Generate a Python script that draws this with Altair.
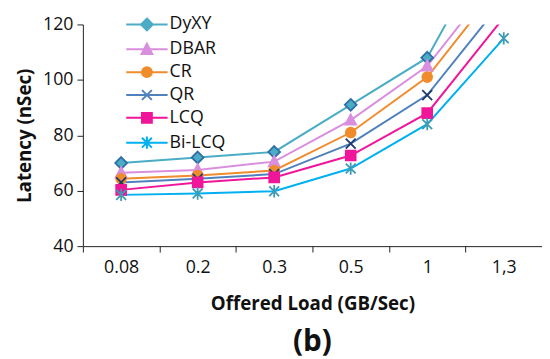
import altair as alt
import pandas as pd

loads = ["0.08", "0.2", "0.3", "0.5", "1", "1,3"]
series = ["DyXY", "DBAR", "CR", "QR", "LCQ", "Bi-LCQ"]

dyxy = [70, 72, 74, 91, 108, 158]
dbar = [66.5, 67.5, 70.5, 85.5, 105, 140]
cr = [64.3, 65.5, 67.3, 81, 101, 136]
qr = [63, 64.3, 66, 77, 94.5, 129]
lcq = [60.3, 63, 64.8, 72.7, 88, 122.5]
bilcq = [58.5, 59, 59.8, 68, 84, 115]

values = [dyxy, dbar, cr, qr, lcq, bilcq]

line_colors = ["#4BACC6", "#DA8FDE", "#F08C2C", "#4F81BD", "#F0169A", "#00B0F0"]
fill_colors = ["#4BACC6", "#DA8FDE", "#F08C2C", "#1F3A6E", "#F0169A", "#3E9BB5"]
stroke_colors = ["#2F6EA5", "#DA8FDE", "#F08C2C", "#1F3A6E", "#F0169A", "#3E9BB5"]

diamond = "M0,-1.2L1.2,0L0,1.2L-1.2,0Z"
triangle = "M0,-1.15L1.1,0.95L-1.1,0.95Z"
circle = "M1,0A1,1,0,1,1,-1,0A1,1,0,1,1,1,0Z"
xmark = "M-1,-1L1,1M-1,1L1,-1"
square = "M-1,-1L1,-1L1,1L-1,1Z"
aster = "M-1,-1L1,1M-1,1L1,-1M0,-1.25L0,1.25"
marker_paths = [diamond, triangle, circle, xmark, square, aster]
seg = "M-4.2,0L4.2,0"
legend_paths = [seg + p for p in marker_paths]

rows = []
for s, vals in zip(series, values):
    for l, v in zip(loads, vals):
        rows.append({"load": l, "series": s, "latency": v})
df = pd.DataFrame(rows)

FONT = "Open Sans"

x = alt.X(
    "load:N",
    sort=loads,
    scale=alt.Scale(type="band", paddingInner=0, paddingOuter=0),
    axis=alt.Axis(
        title="Offered Load (GB/Sec)",
        labelAngle=0,
        tickBand="extent",
        domainColor="#222",
        tickColor="#222",
        tickSize=6,
        labelPadding=7,
        titlePadding=18,
        labelFont=FONT,
        labelFontSize=18,
        labelColor="#111",
        titleFont=FONT,
        titleFontSize=19,
        titleFontWeight="bold",
        titleColor="#111",
    ),
)
y = alt.Y(
    "latency:Q",
    scale=alt.Scale(domain=[40, 120], nice=False, zero=False),
    axis=alt.Axis(
        title="Latency (nSec)",
        values=[40, 60, 80, 100, 120],
        grid=False,
        domainColor="#222",
        tickColor="#222",
        tickSize=6,
        labelPadding=4,
        titlePadding=8,
        labelFont=FONT,
        labelFontSize=18,
        labelColor="#111",
        titleFont=FONT,
        titleFontSize=19,
        titleFontWeight="bold",
        titleColor="#111",
    ),
)

base = alt.Chart(df)

lines = base.mark_line(clip=True, strokeWidth=2).encode(
    x=x,
    y=y,
    color=alt.Color("series:N", scale=alt.Scale(domain=series, range=line_colors), legend=None),
)

points = base.mark_point(filled=True, size=100, opacity=1, strokeWidth=1.8, clip=True).encode(
    x=x,
    y=y,
    shape=alt.Shape("series:N", scale=alt.Scale(domain=series, range=marker_paths), legend=None),
    fill=alt.Fill("series:N", scale=alt.Scale(domain=series, range=fill_colors), legend=None),
    stroke=alt.Stroke("series:N", scale=alt.Scale(domain=series, range=stroke_colors), legend=None),
)

leg = alt.Legend(
    title=None,
    orient="none",
    legendX=56,
    legendY=-9,
    padding=0,
    labelOffset=14,
    rowPadding=5.2,
    labelFont=FONT,
    labelFontSize=18,
    labelColor="#111",
    symbolStrokeWidth=2,
    symbolSize=100,
)

legend_layer = base.transform_filter("false").mark_point(filled=True, size=100, opacity=1, strokeWidth=2).encode(
    shape=alt.Shape("series:N", scale=alt.Scale(domain=series, range=legend_paths), legend=leg),
    fill=alt.Fill("series:N", scale=alt.Scale(domain=series, range=fill_colors), legend=leg),
    stroke=alt.Stroke("series:N", scale=alt.Scale(domain=series, range=line_colors), legend=leg),
)

chart = (
    alt.layer(lines, points, legend_layer)
    .resolve_scale(shape="independent", fill="independent", stroke="independent")
    .properties(
        width=466,
        height=225,
        autosize=alt.AutoSizeParams(type="none"),
        padding={"left": 76, "top": 14, "right": 0, "bottom": 122},
        title=alt.TitleParams(
            "(b)", orient="bottom", anchor="middle", font=FONT, fontSize=30,
            fontWeight="bold", color="#111", offset=14,
        ),
    )
    .configure_view(stroke=None)
)

chart.save("out.html", embed_options={"renderer": "svg", "actions": False})
